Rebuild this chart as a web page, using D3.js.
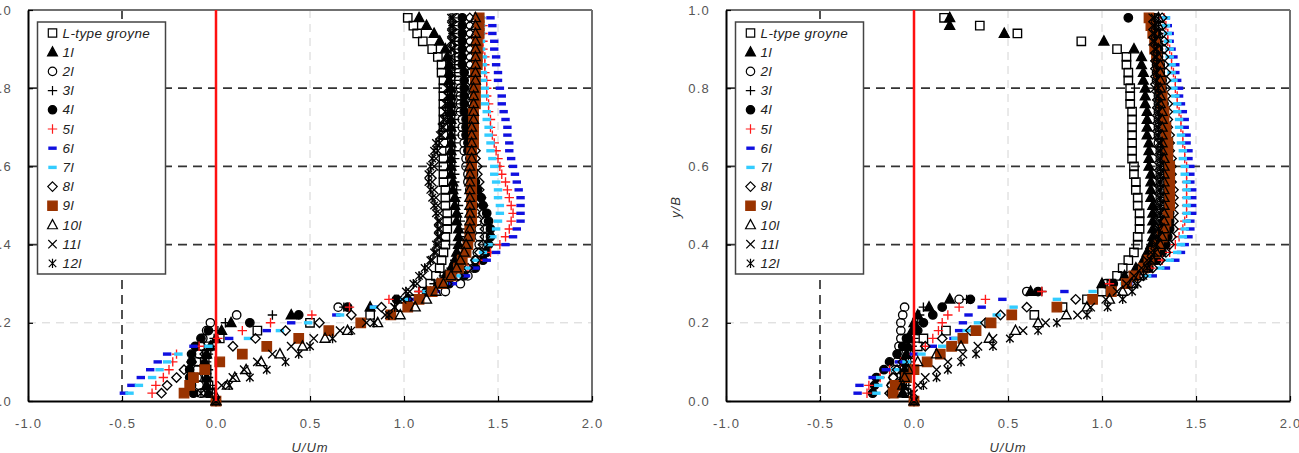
<!DOCTYPE html>
<html>
<head>
<meta charset="utf-8">
<script src="https://cdn.jsdelivr.net/npm/d3@7"></script>
<style>
  body { margin: 0; background: #fff; }
  svg { display: block; font-family: "Liberation Sans", Arial, sans-serif; }
</style>
</head>
<body>
<svg id="chart" width="1299" height="453"></svg>
<script>
// y/B levels shared by every profile
const yLevels = [0.00, 0.02, 0.04, 0.06, 0.08, 0.10, 0.12, 0.14, 0.16, 0.18,
  0.20, 0.22, 0.24, 0.26, 0.28, 0.30, 0.32, 0.34, 0.36, 0.38,
  0.40, 0.42, 0.44, 0.46, 0.48, 0.50, 0.52, 0.54, 0.56, 0.58,
  0.60, 0.62, 0.64, 0.66, 0.68, 0.70, 0.72, 0.74, 0.76, 0.78,
  0.80, 0.82, 0.84, 0.86, 0.88, 0.90, 0.92, 0.94, 0.96, 0.98];

const seriesNames = ["L-type groyne", "1l", "2l", "3l", "4l", "5l", "6l", "7l", "8l", "9l", "10l", "11l", "12l"];
const xTicks = [-1.0, -0.5, 0.0, 0.5, 1.0, 1.5, 2.0];
const yTicks = [0.0, 0.2, 0.4, 0.6, 0.8, 1.0];

// U/Um, left chart
const leftLtype = [0, -0.03, -0.04, -0.05, -0.05, -0.06, -0.05, -0.04, 0.02, 0.22,
  0.50, 0.82, 0.98, 1.05, 1.10, 1.14, 1.17, 1.19, 1.20, 1.21,
  1.22, 1.22, 1.23, 1.23, 1.23, 1.22, 1.22, 1.22, 1.21, 1.21,
  1.21, 1.21, 1.20, 1.21, 1.21, 1.21, 1.21, 1.21, 1.21, 1.21,
  1.21, 1.21, 1.20, 1.20, 1.18, 1.15, 1.10, 1.07, 1.05, 1.02];
const left1l = [0, -0.04, -0.05, -0.05, -0.06, -0.06, -0.05, -0.03, 0.00, 0.03,
  0.08, 0.40, 0.82, 1.02, 1.12, 1.18, 1.22, 1.25, 1.27, 1.28,
  1.29, 1.29, 1.29, 1.28, 1.28, 1.27, 1.27, 1.26, 1.26, 1.25,
  1.25, 1.25, 1.25, 1.25, 1.25, 1.25, 1.25, 1.25, 1.25, 1.25,
  1.25, 1.24, 1.24, 1.24, 1.23, 1.22, 1.19, 1.16, 1.12, 1.08];
const left2l = [0, -0.08, -0.09, -0.10, -0.10, -0.10, -0.09, -0.08, -0.07, -0.05,
  -0.03, 0.11, 0.65, 1.05, 1.22, 1.30, 1.34, 1.37, 1.38, 1.39,
  1.40, 1.40, 1.40, 1.39, 1.38, 1.37, 1.36, 1.35, 1.34, 1.34,
  1.33, 1.33, 1.32, 1.32, 1.31, 1.31, 1.31, 1.30, 1.30, 1.30,
  1.30, 1.29, 1.29, 1.29, 1.29, 1.28, 1.28, 1.28, 1.28, 1.28];
const left3l = [0, -0.02, -0.03, -0.04, -0.04, -0.05, -0.04, -0.03, -0.01, 0.01,
  0.05, 0.30, 0.68, 0.95, 1.08, 1.16, 1.21, 1.25, 1.27, 1.29,
  1.30, 1.30, 1.30, 1.30, 1.29, 1.29, 1.28, 1.28, 1.27, 1.27,
  1.27, 1.27, 1.27, 1.27, 1.27, 1.27, 1.27, 1.27, 1.27, 1.27,
  1.27, 1.27, 1.27, 1.27, 1.27, 1.27, 1.27, 1.26, 1.26, 1.26];
const left4l = [0, -0.12, -0.13, -0.14, -0.14, -0.13, -0.13, -0.11, -0.08, -0.04,
  0.18, 0.44, 0.70, 0.96, 1.12, 1.24, 1.32, 1.38, 1.42, 1.44,
  1.45, 1.46, 1.46, 1.45, 1.44, 1.42, 1.41, 1.39, 1.38, 1.37,
  1.36, 1.35, 1.34, 1.34, 1.33, 1.33, 1.33, 1.32, 1.32, 1.32,
  1.32, 1.32, 1.32, 1.31, 1.31, 1.31, 1.31, 1.31, 1.31, 1.31];
const left5l = [0, -0.34, -0.32, -0.28, -0.25, -0.23, -0.21, -0.09, 0.01, 0.14,
  0.29, 0.51, 0.71, 0.92, 1.08, 1.20, 1.28, 1.34, 1.40, 1.46,
  1.51, 1.54, 1.56, 1.57, 1.58, 1.57, 1.56, 1.55, 1.54, 1.52,
  1.51, 1.50, 1.49, 1.48, 1.47, 1.46, 1.46, 1.45, 1.45, 1.44,
  1.44, 1.44, 1.43, 1.43, 1.43, 1.42, 1.42, 1.42, 1.42, 1.41];
const left6l = [0, -0.49, -0.45, -0.40, -0.35, -0.31, -0.26, -0.12, 0.07, 0.27,
  0.40, 0.64, 0.84, 1.05, 1.17, 1.26, 1.33, 1.38, 1.44, 1.49,
  1.54, 1.58, 1.60, 1.62, 1.62, 1.62, 1.62, 1.61, 1.60, 1.59,
  1.58, 1.57, 1.56, 1.56, 1.55, 1.55, 1.54, 1.53, 1.52, 1.52,
  1.51, 1.50, 1.50, 1.49, 1.49, 1.48, 1.48, 1.47, 1.47, 1.46];
const left7l = [0, -0.46, -0.41, -0.34, -0.30, -0.26, -0.20, -0.04, 0.17, 0.34,
  0.49, 0.66, 0.84, 1.00, 1.12, 1.21, 1.28, 1.33, 1.38, 1.42,
  1.45, 1.47, 1.49, 1.50, 1.51, 1.51, 1.50, 1.50, 1.49, 1.48,
  1.48, 1.47, 1.46, 1.46, 1.45, 1.45, 1.44, 1.44, 1.43, 1.43,
  1.43, 1.42, 1.42, 1.42, 1.42, 1.41, 1.41, 1.41, 1.41, 1.41];
const left8l = [0, -0.29, -0.26, -0.21, -0.17, -0.13, -0.06, 0.09, 0.21, 0.37,
  0.55, 0.72, 0.88, 1.02, 1.14, 1.23, 1.29, 1.34, 1.38, 1.40,
  1.42, 1.43, 1.43, 1.43, 1.42, 1.42, 1.41, 1.40, 1.40, 1.39,
  1.39, 1.38, 1.38, 1.37, 1.37, 1.37, 1.36, 1.36, 1.36, 1.36,
  1.36, 1.35, 1.35, 1.35, 1.35, 1.35, 1.35, 1.35, 1.35, 1.35];
const left9l = [0, -0.17, -0.14, -0.12, -0.06, 0.02, 0.14, 0.27, 0.44, 0.60,
  0.77, 0.93, 1.02, 1.08, 1.15, 1.20, 1.25, 1.29, 1.31, 1.33,
  1.34, 1.35, 1.35, 1.36, 1.36, 1.36, 1.36, 1.36, 1.36, 1.36,
  1.36, 1.36, 1.36, 1.37, 1.37, 1.37, 1.37, 1.37, 1.38, 1.38,
  1.38, 1.38, 1.38, 1.39, 1.39, 1.39, 1.39, 1.40, 1.40, 1.40];
const left10l = [0, -0.01, 0.06, 0.10, 0.16, 0.24, 0.34, 0.46, 0.58, 0.70,
  0.86, 0.98, 1.06, 1.12, 1.17, 1.21, 1.25, 1.28, 1.30, 1.32,
  1.33, 1.34, 1.35, 1.35, 1.35, 1.35, 1.35, 1.35, 1.35, 1.35,
  1.35, 1.36, 1.36, 1.36, 1.36, 1.36, 1.37, 1.37, 1.37, 1.37,
  1.37, 1.38, 1.38, 1.38, 1.38, 1.38, 1.38, 1.38, 1.38, 1.38];
const left11l = [0, -0.05, 0.03, 0.09, 0.15, 0.22, 0.30, 0.40, 0.52, 0.66,
  0.80, 0.90, 0.95, 0.99, 1.03, 1.07, 1.10, 1.13, 1.15, 1.17,
  1.18, 1.19, 1.19, 1.19, 1.19, 1.18, 1.17, 1.16, 1.15, 1.15,
  1.16, 1.17, 1.18, 1.19, 1.20, 1.21, 1.22, 1.22, 1.23, 1.23,
  1.24, 1.24, 1.25, 1.25, 1.25, 1.26, 1.26, 1.26, 1.26, 1.26];
const left12l = [0, -0.08, 0.07, 0.18, 0.27, 0.37, 0.44, 0.50, 0.62, 0.72,
  0.84, 0.92, 0.95, 0.97, 1.01, 1.05, 1.08, 1.11, 1.14, 1.16,
  1.17, 1.18, 1.18, 1.18, 1.17, 1.16, 1.15, 1.14, 1.13, 1.13,
  1.14, 1.15, 1.16, 1.17, 1.19, 1.20, 1.21, 1.22, 1.22, 1.23,
  1.23, 1.24, 1.24, 1.24, 1.25, 1.25, 1.25, 1.25, 1.25, 1.25];

// U/Um, right chart
const rightLtype = [0, -0.04, -0.05, -0.05, -0.05, -0.04, -0.02, 0.02, 0.05, 0.17,
  0.40, 0.64, 0.79, 0.92, 1.00, 1.05, 1.08, 1.11, 1.14, 1.17,
  1.19, 1.19, 1.20, 1.20, 1.20, 1.19, 1.19, 1.18, 1.18, 1.17,
  1.17, 1.16, 1.16, 1.16, 1.16, 1.16, 1.16, 1.16, 1.15, 1.15,
  1.15, 1.14, 1.14, 1.13, 1.13, 1.08, 0.89, 0.55, 0.35, 0.16];
const right1l = [0, -0.06, -0.06, -0.06, -0.05, -0.05, -0.04, -0.03, -0.02, -0.01,
  0.00, 0.02, 0.08, 0.19, 0.62, 1.00, 1.12, 1.18, 1.22, 1.24,
  1.26, 1.27, 1.27, 1.27, 1.27, 1.27, 1.26, 1.26, 1.26, 1.26,
  1.25, 1.25, 1.25, 1.25, 1.24, 1.24, 1.24, 1.24, 1.23, 1.23,
  1.23, 1.22, 1.22, 1.21, 1.21, 1.17, 1.01, 0.48, 0.19, 0.19];
const right2l = [0, -0.12, -0.12, -0.11, -0.10, -0.09, -0.08, -0.08, -0.07, -0.07,
  -0.07, -0.06, -0.05, 0.24, 0.60, 1.02, 1.15, 1.22, 1.26, 1.28,
  1.30, 1.31, 1.31, 1.31, 1.31, 1.31, 1.31, 1.31, 1.31, 1.31,
  1.31, 1.31, 1.31, 1.30, 1.30, 1.30, 1.30, 1.30, 1.30, 1.30,
  1.30, 1.29, 1.29, 1.29, 1.29, 1.29, 1.28, 1.28, 1.28, 1.28];
const right3l = [0, -0.03, -0.04, -0.04, -0.03, -0.03, -0.02, -0.01, 0.00, 0.01,
  0.02, 0.03, 0.05, 0.28, 0.68, 1.05, 1.17, 1.24, 1.28, 1.30,
  1.32, 1.33, 1.33, 1.33, 1.33, 1.33, 1.33, 1.33, 1.33, 1.33,
  1.33, 1.32, 1.32, 1.32, 1.32, 1.32, 1.32, 1.31, 1.31, 1.31,
  1.31, 1.31, 1.31, 1.30, 1.30, 1.30, 1.30, 1.30, 1.30, 1.30];
const right4l = [0, -0.22, -0.21, -0.20, -0.16, -0.13, -0.09, -0.06, -0.04, 0.02,
  0.05, 0.10, 0.15, 0.30, 0.66, 1.06, 1.18, 1.25, 1.29, 1.32,
  1.34, 1.35, 1.36, 1.36, 1.36, 1.36, 1.36, 1.36, 1.36, 1.35,
  1.35, 1.35, 1.35, 1.34, 1.34, 1.34, 1.33, 1.33, 1.33, 1.32,
  1.32, 1.32, 1.31, 1.31, 1.30, 1.30, 1.29, 1.29, 1.27, 1.14];
const right5l = [0, -0.25, -0.24, -0.18, -0.13, -0.07, 0.00, 0.06, 0.10, 0.13,
  0.15, 0.18, 0.24, 0.38, 0.68, 1.04, 1.18, 1.26, 1.32, 1.36,
  1.39, 1.41, 1.43, 1.44, 1.45, 1.45, 1.45, 1.45, 1.45, 1.45,
  1.45, 1.44, 1.44, 1.43, 1.43, 1.42, 1.42, 1.41, 1.40, 1.40,
  1.39, 1.39, 1.38, 1.37, 1.37, 1.36, 1.35, 1.35, 1.34, 1.33];
const right6l = [0, -0.30, -0.29, -0.22, -0.15, -0.08, 0.00, 0.10, 0.21, 0.24,
  0.26, 0.29, 0.36, 0.47, 0.80, 1.14, 1.27, 1.34, 1.39, 1.42,
  1.44, 1.46, 1.47, 1.47, 1.48, 1.48, 1.48, 1.48, 1.47, 1.47,
  1.47, 1.46, 1.46, 1.45, 1.45, 1.44, 1.44, 1.43, 1.42, 1.41,
  1.41, 1.40, 1.39, 1.39, 1.38, 1.37, 1.36, 1.36, 1.35, 1.34];
const right7l = [0, -0.20, -0.19, -0.18, -0.10, -0.04, 0.04, 0.15, 0.22, 0.28,
  0.34, 0.44, 0.53, 0.76, 0.95, 1.12, 1.24, 1.31, 1.36, 1.40,
  1.42, 1.43, 1.44, 1.45, 1.45, 1.45, 1.45, 1.45, 1.45, 1.44,
  1.44, 1.43, 1.43, 1.42, 1.42, 1.41, 1.41, 1.40, 1.40, 1.39,
  1.38, 1.38, 1.37, 1.37, 1.36, 1.36, 1.35, 1.35, 1.34, 1.34];
const right8l = [0, -0.13, -0.12, -0.11, -0.09, -0.06, -0.02, 0.06, 0.15, 0.30,
  0.38, 0.46, 0.60, 0.86, 1.05, 1.15, 1.22, 1.27, 1.31, 1.34,
  1.36, 1.37, 1.38, 1.38, 1.38, 1.38, 1.38, 1.38, 1.37, 1.37,
  1.37, 1.37, 1.36, 1.36, 1.36, 1.35, 1.35, 1.35, 1.35, 1.34,
  1.34, 1.34, 1.34, 1.33, 1.33, 1.33, 1.33, 1.32, 1.32, 1.32];
const right9l = [0, -0.11, -0.10, -0.04, 0.00, 0.07, 0.14, 0.20, 0.26, 0.33,
  0.41, 0.52, 0.76, 0.95, 1.05, 1.13, 1.17, 1.22, 1.25, 1.28,
  1.30, 1.32, 1.33, 1.34, 1.35, 1.36, 1.36, 1.36, 1.36, 1.36,
  1.36, 1.35, 1.35, 1.35, 1.34, 1.34, 1.33, 1.33, 1.32, 1.32,
  1.31, 1.31, 1.30, 1.30, 1.29, 1.28, 1.28, 1.27, 1.26, 1.25];
const right10l = [0, -0.06, -0.06, -0.05, -0.03, 0.02, 0.12, 0.25, 0.40, 0.54,
  0.66, 0.81, 0.92, 1.04, 1.11, 1.16, 1.20, 1.24, 1.27, 1.29,
  1.31, 1.32, 1.33, 1.33, 1.33, 1.33, 1.33, 1.33, 1.33, 1.33,
  1.33, 1.33, 1.32, 1.32, 1.32, 1.32, 1.32, 1.32, 1.31, 1.31,
  1.31, 1.31, 1.31, 1.31, 1.30, 1.30, 1.30, 1.30, 1.30, 1.30];
const right11l = [0, -0.02, 0.02, 0.06, 0.12, 0.18, 0.26, 0.34, 0.42, 0.58,
  0.70, 0.87, 0.94, 1.02, 1.08, 1.13, 1.17, 1.21, 1.24, 1.26,
  1.28, 1.29, 1.30, 1.30, 1.30, 1.30, 1.30, 1.30, 1.30, 1.30,
  1.30, 1.30, 1.30, 1.30, 1.29, 1.29, 1.29, 1.29, 1.29, 1.29,
  1.28, 1.28, 1.28, 1.28, 1.28, 1.28, 1.27, 1.27, 1.27, 1.27];
const right12l = [0, 0.00, 0.05, 0.12, 0.18, 0.25, 0.33, 0.42, 0.51, 0.66,
  0.76, 0.92, 1.03, 1.11, 1.16, 1.19, 1.22, 1.24, 1.26, 1.28,
  1.29, 1.30, 1.30, 1.31, 1.31, 1.31, 1.31, 1.31, 1.31, 1.31,
  1.31, 1.31, 1.31, 1.31, 1.30, 1.30, 1.30, 1.30, 1.30, 1.30,
  1.30, 1.29, 1.29, 1.29, 1.29, 1.29, 1.28, 1.28, 1.28, 1.28];

// marker look for each series (same order as seriesNames)
const shapes = ["square", "triangle", "circle", "plus", "circle", "plus", "dash", "dash", "diamond", "square", "triangle", "x", "star"];
const fills = ["none", "#000", "none", "none", "#000", "none", "#1010e0", "#33ccff", "none", "#993300", "none", "none", "none"];
const strokes = ["#000", "#000", "#000", "#000", "#000", "#ff1a1a", "none", "none", "#000", "#993300", "#000", "#000", "#000"];
const sizes = [4.2, 4.7, 4.2, 4.7, 4.2, 4.7, 4.2, 4.2, 4.7, 4.7, 4.7, 4.2, 4.7];

const panels = [
  { left: 28, data: [leftLtype, left1l, left2l, left3l, left4l, left5l, left6l, left7l, left8l, left9l, left10l, left11l, left12l] },
  { left: 726, data: [rightLtype, right1l, right2l, right3l, right4l, right5l, right6l, right7l, right8l, right9l, right10l, right11l, right12l] }
];

const svg = d3.select("#chart");
const plotW = 564, plotTop = 10, plotBottom = 401;
const fmt = d => d.toFixed(1);   // plain hyphen for negatives, as in the original

function markerPath(shape, s) {
  const p = d3.path();
  if (shape === "square") p.rect(-s, -s, 2 * s, 2 * s);
  else if (shape === "triangle") { p.moveTo(0, -s * 1.15); p.lineTo(s * 1.05, s * 0.8); p.lineTo(-s * 1.05, s * 0.8); p.closePath(); }
  else if (shape === "circle") { p.moveTo(s, 0); p.arc(0, 0, s, 0, 2 * Math.PI); }
  else if (shape === "plus") { p.moveTo(-s, 0); p.lineTo(s, 0); p.moveTo(0, -s); p.lineTo(0, s); }
  else if (shape === "diamond") { p.moveTo(0, -s); p.lineTo(s, 0); p.lineTo(0, s); p.lineTo(-s, 0); p.closePath(); }
  else if (shape === "dash") p.rect(-s, -1.7, 2 * s, 3.4);
  else if (shape === "x") { p.moveTo(-s, -s); p.lineTo(s, s); p.moveTo(-s, s); p.lineTo(s, -s); }
  else if (shape === "star") {
    const d = s * 0.8;
    p.moveTo(-d, -d); p.lineTo(d, d); p.moveTo(-d, d); p.lineTo(d, -d);
    p.moveTo(0, -s); p.lineTo(0, s);
  }
  return p.toString();
}

panels.forEach(panel => {
  const x = d3.scaleLinear().domain([-1, 2]).range([panel.left, panel.left + plotW]);
  const y = d3.scaleLinear().domain([0, 1]).range([plotBottom, plotTop]);
  const g = svg.append("g");

  // light grid
  g.selectAll("line.vlight").data([0.5, 1.0, 1.5]).enter().append("line")
    .attr("x1", d => x(d)).attr("x2", d => x(d)).attr("y1", plotTop).attr("y2", plotBottom)
    .attr("stroke", "#d4d4d4").attr("stroke-width", 1).attr("stroke-dasharray", "8,6");
  g.append("line")
    .attr("x1", x(-1)).attr("x2", x(2)).attr("y1", y(0.2)).attr("y2", y(0.2))
    .attr("stroke", "#d4d4d4").attr("stroke-width", 1).attr("stroke-dasharray", "8,6");

  // dark dashed lines
  g.selectAll("line.hdark").data([0.4, 0.6, 0.8]).enter().append("line")
    .attr("x1", x(-1)).attr("x2", x(2)).attr("y1", d => y(d)).attr("y2", d => y(d))
    .attr("stroke", "#333").attr("stroke-width", 1.7).attr("stroke-dasharray", "9,6");
  g.append("line")
    .attr("x1", x(-0.5)).attr("x2", x(-0.5)).attr("y1", plotTop).attr("y2", plotBottom)
    .attr("stroke", "#333").attr("stroke-width", 1.7).attr("stroke-dasharray", "9,6");

  // frame top / right
  g.append("line").attr("x1", x(-1)).attr("x2", x(2)).attr("y1", plotTop).attr("y2", plotTop)
    .attr("stroke", "#707070").attr("stroke-width", 2);
  g.append("line").attr("x1", x(2)).attr("x2", x(2)).attr("y1", plotTop).attr("y2", plotBottom)
    .attr("stroke", "#707070").attr("stroke-width", 2);

  // axes
  const xAxis = g.append("g").attr("transform", `translate(0,${plotBottom})`)
    .call(d3.axisBottom(x).tickValues(xTicks).tickFormat(fmt)
      .tickSizeInner(-5).tickSizeOuter(0).tickPadding(18));
  const yAxis = g.append("g").attr("transform", `translate(${panel.left},0)`)
    .call(d3.axisLeft(y).tickValues(yTicks).tickFormat(fmt)
      .tickSizeInner(-5).tickSizeOuter(0).tickPadding(16));
  [xAxis, yAxis].forEach(a => {
    a.select(".domain").attr("stroke", "#000").attr("stroke-width", 2);
    a.selectAll(".tick line").attr("stroke", "#000").attr("stroke-width", 1.2);
    a.selectAll(".tick text").attr("fill", "#555").attr("font-size", 13)
      .attr("letter-spacing", 1.2).attr("font-family", '"Liberation Sans", Arial, sans-serif');
  });

  // axis titles
  g.append("text").attr("x", panel.left + plotW / 2).attr("y", 447)
    .attr("text-anchor", "middle").attr("dominant-baseline", "central")
    .attr("font-style", "italic").attr("font-size", 13).attr("letter-spacing", 1)
    .attr("fill", "#333").text("U/Um");
  g.append("text").attr("transform", `translate(${panel.left - 51},207) rotate(-90)`)
    .attr("text-anchor", "middle").attr("dominant-baseline", "central")
    .attr("font-style", "italic").attr("font-size", 13).attr("letter-spacing", 1)
    .attr("fill", "#333").text("y/B");

  // markers
  panel.data.forEach((vals, si) => {
    const pts = vals.map((v, i) => ({ u: v, yb: yLevels[i] }));
    g.append("g").selectAll("path").data(pts).enter().append("path")
      .attr("transform", d => `translate(${x(d.u)},${y(d.yb)})`)
      .attr("d", markerPath(shapes[si], sizes[si]))
      .attr("fill", fills[si]).attr("stroke", strokes[si]).attr("stroke-width", 1.35);
  });

  // red zero-velocity line
  g.append("line").attr("x1", x(0)).attr("x2", x(0)).attr("y1", plotTop).attr("y2", plotBottom)
    .attr("stroke", "#ff1010").attr("stroke-width", 2.5);

  // legend
  const lg = g.append("g").attr("transform", `translate(${panel.left + 9.5},22)`);
  lg.append("rect").attr("width", 128).attr("height", 252)
    .attr("fill", "#fff").attr("stroke", "#444").attr("stroke-width", 1.5);
  seriesNames.forEach((name, si) => {
    const row = lg.append("g").attr("transform", `translate(0,${11 + si * 19.2})`);
    row.append("path").attr("transform", "translate(15,0)")
      .attr("d", markerPath(shapes[si], sizes[si]))
      .attr("fill", fills[si]).attr("stroke", strokes[si]).attr("stroke-width", 1.2);
    row.append("text").attr("x", 25).attr("dominant-baseline", "central")
      .attr("font-style", "italic").attr("font-size", 13.5).attr("letter-spacing", 0.4)
      .attr("fill", "#222").text(name);
  });
});
</script>
</body>
</html>
